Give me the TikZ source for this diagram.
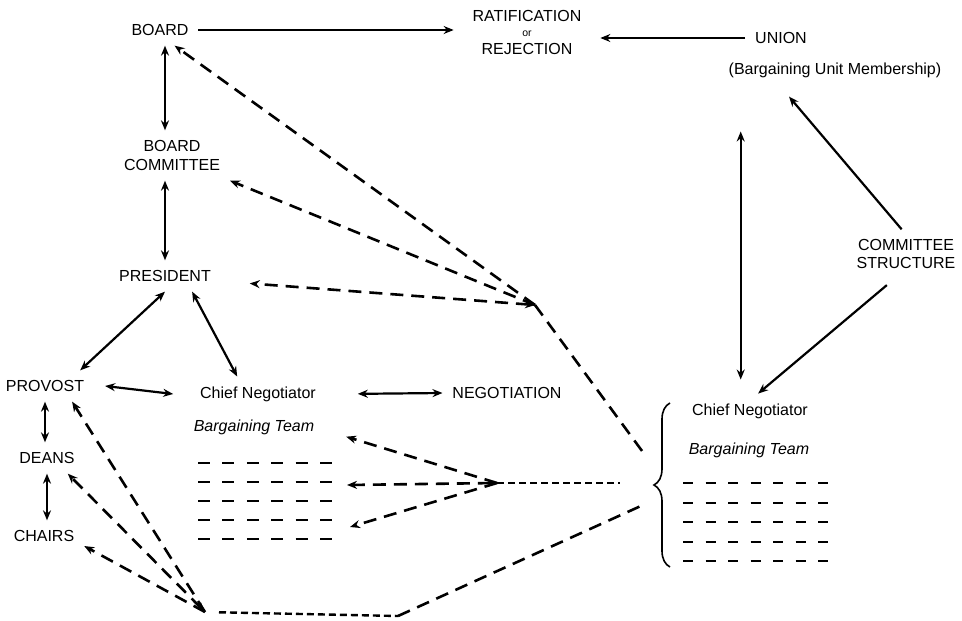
\documentclass[tikz,border=0pt]{standalone}
\usepackage{fontspec}
\setmainfont{Liberation Sans}
\usetikzlibrary{arrows.meta,decorations.pathreplacing}
\begin{document}
\begin{tikzpicture}[x=1pt,y=-1pt,
  lbl/.style={inner sep=0pt, outer sep=10pt, font=\fontsize{16}{19}\selectfont, align=center},
  itl/.style={lbl, font=\fontsize{16}{19}\selectfont\itshape},
  sol/.style={line width=2.2pt},
  dsh/.style={line width=2.6pt, dash pattern=on 13pt off 8pt},
  fdsh/.style={line width=2.4pt, dash pattern=on 7pt off 4pt},
  tip/.style={-{Stealth[length=10pt,width=8pt]}},
  dbl/.style={{Stealth[length=10pt,width=8pt]}-{Stealth[length=10pt,width=8pt]}},
  rowl/.style={line width=2.8pt, dash pattern=on 12pt off 12.4pt},
  rowr/.style={line width=2.8pt, dash pattern=on 10pt off 12.5pt},
  bracestyle/.style={line width=1.6pt, decorate, decoration={brace, amplitude=16pt}}
]
\useasboundingbox (0,0) rectangle (962,621);

% nodes
\node[lbl] (board) at (160,30) {BOARD};
\node[lbl, outer xsep=19pt] (rat) at (527,32) {RATIFICATION\\[-4pt]{\fontsize{10.5}{12}\selectfont or}\\[-1pt]REJECTION};
\node[lbl] (union) at (781,38) {UNION};
\node[lbl] (bum) at (835,70) {(Bargaining Unit Membership)};
\node[lbl, font=\fontsize{16}{18}\selectfont] (cstr) at (906,254) {COMMITTEE\\STRUCTURE};
\node[lbl] (bcom) at (172,155.5) {BOARD\\COMMITTEE};
\node[lbl, outer xsep=39pt] (pres) at (165,276) {PRESIDENT};
\node[lbl, outer xsep=21pt] (prov) at (45,386) {PROVOST};
\node[lbl] (deans) at (47,458) {DEANS};
\node[lbl] (chairs) at (44,536) {CHAIRS};
\node[lbl, outer xsep=27pt] (cnl) at (258,394) {Chief Negotiator};
\node[lbl] (nego) at (507,393) {NEGOTIATION};
\node[itl, outer xsep=32pt] (btl) at (254,427) {Bargaining Team};
\node[lbl] (cnr) at (750,411) {Chief Negotiator};
\node[itl] (btr) at (749,450) {Bargaining Team};

% hubs and free ends
\coordinate (hubA) at (535,305);
\coordinate (hubB) at (497,483);
\coordinate (hubC) at (205,612);
\coordinate (bend) at (398,616);
\coordinate (rowL2) at (347,485);
\coordinate (rowL4) at (350,527);
\coordinate (midR) at (620,483);
\coordinate (brA) at (645,455);
\coordinate (brB) at (643,505);

% member rows
\foreach \y in {463,482,501,520,539} \draw[rowl] (198,\y) -- (332,\y);
\foreach \y in {483,503,522,542,561} \draw[rowr] (683,\y) -- (828,\y);

% brace
\draw[bracestyle] (670,567) -- (670,403);

% solid connectors
\draw[sol,dbl] (board.south -| pres) -- (bcom.north -| pres);
\draw[sol,dbl] (bcom.south -| pres) -- (pres.north);
\draw[sol,dbl] (pres.south) -- (prov.24);
\draw[sol,dbl] (pres.-30) -- (cnl.140);
\draw[sol,dbl] (prov.east) -- (cnl.west);
\draw[sol,dbl,shorten <=15pt] (cnl.east) -- (nego.west);
\draw[sol,dbl] (prov.south) -- (prov.south |- deans.north);
\draw[sol,dbl] (deans.south) -- (deans.south |- chairs.north);
\draw[sol,tip] (board.east) -- (board.east -| rat.west);
\draw[sol,tip] (union.west) -- (union.west -| rat.east);
\draw[sol,dbl,shorten <=14pt,shorten >=44pt] (cnr.118) -- (cnr.118 |- bum.south);
\draw[sol,tip,shorten >=12pt] (cstr.100) -- (bum.-162);
\draw[sol,tip,shorten <=10pt] (cstr.-115) -- (cnr.65);

% dashed connectors
\draw[dsh,tip] (hubA) -- (board.-47);
\draw[dsh,tip] (hubA) -- (bcom.south east);
\draw[dsh,dbl] (hubA) -- (pres.-5);
\draw[dsh] (hubA) -- (brA);
\draw[dsh,tip] (hubB) -- (btl.-6);
\draw[dsh,dbl] (hubB) -- (rowL2);
\draw[dsh,tip] (hubB) -- (rowL4);
\draw[fdsh] (hubB) -- (midR);
\draw[dsh,tip] (hubC) -- (prov.-30);
\draw[dsh,dbl] (hubC) -- (deans.-37);
\draw[dsh,tip] (hubC) -- (chairs.-14);
\draw[fdsh,shorten <=14pt] (hubC) -- (bend);
\draw[dsh] (bend) -- (brB);
\end{tikzpicture}
\end{document}
